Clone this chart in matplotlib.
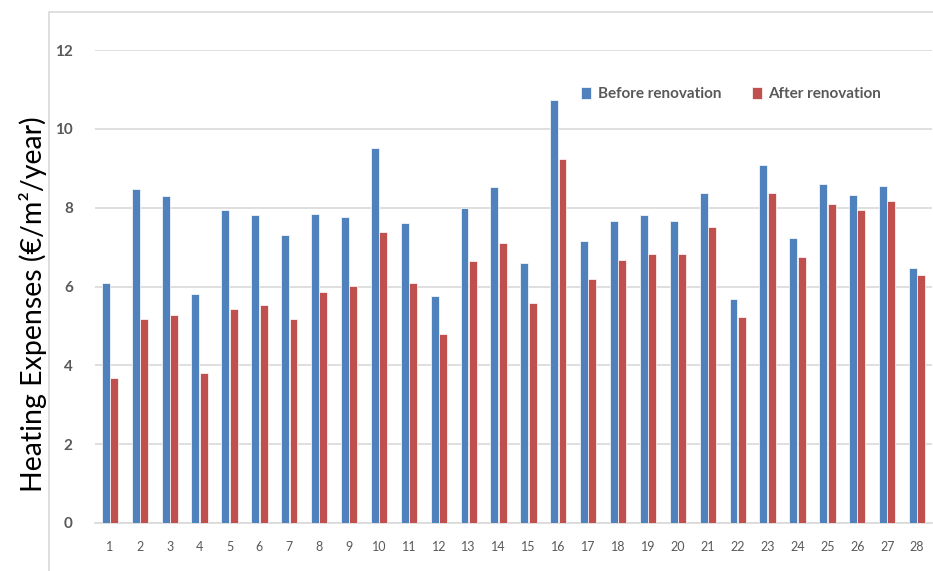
import matplotlib
matplotlib.use("Agg")
import matplotlib.pyplot as plt
import matplotlib.patches as mpatches
import numpy as np

# heating costs per dwelling, before and after the renovation works
dwellings = [str(i) for i in range(1, 29)]
before = [6.08, 8.48, 8.29, 5.81, 7.93, 7.81, 7.30, 7.85, 7.77, 9.51,
          7.62, 5.77, 8.00, 8.52, 6.59, 10.72, 7.15, 7.66, 7.81, 7.66,
          8.37, 5.69, 9.07, 7.23, 8.60, 8.33, 8.56, 6.48]
after = [3.69, 5.18, 5.27, 3.81, 5.42, 5.54, 5.18, 5.85, 6.01, 7.39,
         6.08, 4.79, 6.64, 7.11, 5.58, 9.23, 6.20, 6.68, 6.83, 6.83,
         7.51, 5.22, 8.37, 6.75, 8.10, 7.93, 8.17, 6.28]
y_ticks = [0, 2, 4, 6, 8, 10, 12]

BLUE = "#4F81BD"
RED = "#C0504D"
GRID = "#d9d9d9"
TXT = "#595959"

plt.rcParams["font.family"] = ["Lato", "DejaVu Sans"]

fig = plt.figure(figsize=(9.33, 5.71), dpi=100)
ax = fig.add_axes([95 / 933, 48 / 571, 837 / 933, 473 / 571])

x = np.arange(len(dwellings))
w = 0.265
ax.bar(x - 0.14, before, width=w, color=BLUE, edgecolor="white",
       linewidth=0.5, label="Before renovation", zorder=3)
ax.bar(x + 0.14, after, width=w, color=RED, edgecolor="white",
       linewidth=0.5, label="After renovation", zorder=3)

ax.set_xlim(-0.5, len(dwellings) - 0.5)
ax.set_ylim(0, 12)
ax.set_yticks(y_ticks)
ax.set_xticks(x)
ax.set_xticklabels(dwellings)
ax.yaxis.grid(True, color=GRID, linewidth=1.2, zorder=0)
ax.set_axisbelow(True)
for s in ["top", "right", "left"]:
    ax.spines[s].set_visible(False)
ax.spines["bottom"].set_color(GRID)
ax.spines["bottom"].set_linewidth(1.2)

ax.tick_params(axis="both", length=0)
ax.tick_params(axis="y", pad=16, labelsize=11, labelcolor=TXT)
ax.tick_params(axis="x", pad=13, labelsize=9, labelcolor=TXT)
for lab in ax.get_yticklabels():
    lab.set_fontweight("bold")

fig.text(33 / 933, 1 - 304 / 571, "Heating Expenses (€/m²/year)",
         rotation=90, ha="center", va="center", fontsize=20.5, color="black")

leg = ax.legend(loc="center", bbox_to_anchor=(731 / 933, 1 - 94 / 571),
                bbox_transform=fig.transFigure, ncol=2, frameon=False,
                handlelength=0.7, handleheight=0.9, handletextpad=0.4,
                columnspacing=2.0, prop={"weight": "bold", "size": 11})
for t in leg.get_texts():
    t.set_color(TXT)

# outer chart border (only top and left edges fall inside the canvas)
fig.patches.append(mpatches.Rectangle((49 / 933, -0.1), 1.2, 1.1 - 12 / 571,
                                      transform=fig.transFigure, fill=False,
                                      edgecolor=GRID, linewidth=1.2))

fig.savefig("out.png", dpi=100)
